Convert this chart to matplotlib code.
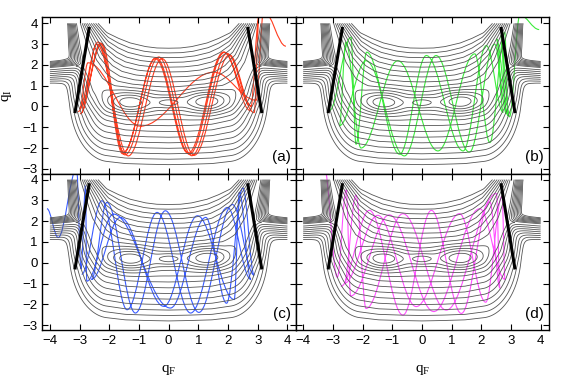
import numpy as np
import matplotlib
matplotlib.use("Agg")
import matplotlib.pyplot as plt
from matplotlib.path import Path
from matplotlib.patches import PathPatch

# ---- Potential surface: valley floor, left half (top of the arm -> middle) ----
VALLEY_X = [-3.20, -3.05, -2.92, -2.75, -2.45, -2.00, -1.40, -0.70, 0.00]
VALLEY_Y = [5.00, 4.00, 3.00, 2.00, 1.10, 0.55, 0.30, 0.22, 0.20]
# how far the walls reach on the inner (upper) side and outer (lower) side
INNER_RX = [0.35, 0.45, 1.00, 1.30, 1.80, 2.10, 2.60, 2.80, 2.80]
INNER_RY = [0.60, 0.80, 1.00, 1.80, 2.40, 2.65, 2.65, 2.60, 2.60]
OUTER_RX = [0.30, 0.35, 0.45, 0.55, 0.95, 1.35, 1.30, 1.40, 1.40]
OUTER_RY = [0.60, 0.80, 1.20, 2.20, 2.60, 3.20, 3.05, 3.00, 3.00]

# side branch of the valley leaving through the left / right edge
BRANCH_X = [-2.90, -3.30, -3.80, -4.40]
BRANCH_Y = [1.98, 1.92, 1.86, 1.80]
BRANCH_BASE = [0.30, 0.30, 0.30, 0.30]
BRANCH_UP = [0.45, 0.45, 0.45, 0.45]
BRANCH_DOWN = [0.90, 0.95, 1.00, 1.00]

# the three wells
WELL_X = [-1.30, 0.00, 1.30]
WELL_Y = [0.18, 0.18, 0.22]
WELL_DEPTH = [0.36, 0.20, 0.36]
WELL_SX = [0.78, 0.45, 0.78]
WELL_SY = [0.52, 0.30, 0.52]

# ---- Dividing lines (black) ----
DIV_LEFT_X = [-3.15, -2.68]
DIV_LEFT_Y = [-0.25, 3.75]
DIV_RIGHT_X = [2.67, 3.13]
DIV_RIGHT_Y = [3.75, -0.25]

# ---- Trajectories: turning points, one list per panel ----
TRAJ_A_X = [-3.05, -2.38, -1.47, -0.33, 0.78, 1.97, 2.88, 3.05, 2.75, 1.88, 0.70, -0.42, -1.55,
            -2.30, -2.97, -2.42, -1.36, -0.22, 0.86, 2.05, 2.80, 1.85, 0.66, -0.45, -1.52,
            -2.25, -3.00, -2.72, -0.95, 1.52, 2.95, 3.20, 3.95]
TRAJ_A_Y = [-0.25, 3.10, -2.33, 2.38, -2.37, 2.55, -0.30, 4.40, -0.20, 2.60, -2.30, 2.35, -2.28,
            3.05, -0.35, 3.00, -2.38, 2.30, -2.35, 2.48, 0.00, 2.62, -2.25, 2.30, -2.20,
            3.02, -0.10, 2.10, -0.95, 1.65, 0.30, 4.60, 2.90]

TRAJ_B_X = [-3.12, -2.39, -2.22, -1.86, -0.75, 0.15, 1.39, 2.17, 2.74, 2.51, 2.91, 2.79, 2.29,
            1.78, 0.54, -0.81, -2.05, -2.56, -2.78, -1.88, -0.59, 0.48, 1.60, 2.45, 2.85,
            2.65, 2.95, 3.30, 3.95]
TRAJ_B_Y = [-0.21, 3.33, -1.82, 2.61, -2.30, 2.45, -2.14, 2.93, -0.29, 3.25, -0.45, 3.57, -1.74,
            2.53, -2.14, 2.20, -2.00, 3.09, -0.93, 2.20, -2.38, 2.45, -2.20, 3.00, -0.35,
            3.40, -0.50, 4.40, 3.70]

TRAJ_C_X = [-2.93, -2.25, -1.40, -0.39, 0.74, 1.98, 2.77, 2.38, 2.21, 0.97, -0.16, -1.63, -2.60,
            -2.08, -1.12, -0.11, 1.02, 2.15, 2.88, 2.50, 1.95, 1.25, 0.06, -1.86, -2.76,
            -2.80, -2.95, -3.10, -3.72, -4.10]
TRAJ_C_Y = [-0.56, 2.98, -2.26, 2.42, -2.42, 2.66, -0.80, 3.39, -1.77, 2.26, -2.10, 2.18, -0.80,
            2.90, -2.42, 2.50, -2.39, 2.80, -0.60, 3.60, -1.95, 2.18, -2.18, 2.34, -0.89,
            3.70, -0.30, 4.50, 1.21, 2.60]

TRAJ_D_X = [-2.73, -1.77, -0.64, 0.32, 1.33, 2.29, 2.63, 2.51, 0.82, -0.64, -1.88, -2.22, -2.62,
            -1.49, -0.19, 1.27, 2.15, 2.70, 2.80, 1.95, 0.40, -1.10, -2.40, -2.55, -2.85, -3.29]
TRAJ_D_Y = [-1.14, 2.52, -2.52, 2.52, -2.44, 2.93, -1.22, 3.33, -2.28, 2.36, -2.20, 3.25, -1.00,
            2.28, -2.11, 2.36, -1.90, 3.20, -0.80, 2.60, -2.35, 2.30, -1.60, 3.50, -0.70, 4.60]

PANELS = [
    ("(a)", TRAJ_A_X, TRAJ_A_Y, "#ff3c1e"),
    ("(b)", TRAJ_B_X, TRAJ_B_Y, "#3cec3c"),
    ("(c)", TRAJ_C_X, TRAJ_C_Y, "#3a5cff"),
    ("(d)", TRAJ_D_X, TRAJ_D_Y, "#ff50ff"),
]


def densify(xs, ys, cols, n):
    # fine sampling of a polyline together with the values attached to its points
    t = np.arange(len(xs))
    tt = np.linspace(0, len(xs) - 1, n)
    cx, cy = np.interp(tt, t, xs), np.interp(tt, t, ys)
    return cx, cy, [np.interp(tt, t, c) for c in cols]


def piece_distance(X, Y, piece, inside):
    # smallest scaled distance to the sampled curve; "inside" picks the wall that applies
    cx, cy, (irx, iry, orx, ory, base) = piece
    best = np.full(X.shape, np.inf)
    for i in range(len(cx)):
        rx = np.where(inside, irx[i], orx[i])
        ry = np.where(inside, iry[i], ory[i])
        best = np.minimum(best, base[i] + np.hypot((X - cx[i]) / rx, (Y - cy[i]) / ry))
    return best


# ---- Build the potential on a grid ----
def build_potential():
    m = lambda a: list(a) + list(a[-2::-1])
    xs = np.array(VALLEY_X + [-v for v in VALLEY_X[-2::-1]])
    ys = np.array(m(VALLEY_Y))
    zero = [0.0] * len(VALLEY_X)
    main_piece = densify(xs, ys, [m(INNER_RX), m(INNER_RY), m(OUTER_RX), m(OUTER_RY), m(zero)], 700)

    gx = np.linspace(-4.0, 4.0, 321)
    gy = np.linspace(-3.3, 4.0, 293)
    X, Y = np.meshgrid(gx, gy)
    pts = np.column_stack([X.ravel(), Y.ravel()])

    # region enclosed by the U (above the valley floor, between the arms)
    u_shape = Path(np.column_stack([main_piece[0], main_piece[1]]))
    inside_u = u_shape.contains_points(pts).reshape(X.shape)
    dists = [piece_distance(X, Y, main_piece, inside_u)]

    # side branches: their lower wall plays the "inside" role
    spread = [0.7] * len(BRANCH_X)
    cols = [spread, BRANCH_DOWN, spread, BRANCH_UP, BRANCH_BASE]
    below = Y < np.interp(np.abs(X), -np.array(BRANCH_X), BRANCH_Y)
    for side in (1, -1):
        piece = densify(side * np.array(BRANCH_X), np.array(BRANCH_Y), cols, 120)
        dists.append(piece_distance(X, Y, piece, below))

    # soft minimum, so the corners between arm and branch come out rounded
    dists = np.array(dists)
    T = 0.2
    lo = dists.min(axis=0)
    best = lo - T * np.log(np.exp(-(dists - lo) / T).sum(axis=0))

    V = np.sqrt(best ** 2 + 0.04)
    for wx, wy, dep, sx, sy in zip(WELL_X, WELL_Y, WELL_DEPTH, WELL_SX, WELL_SY):
        V -= dep * np.exp(-((X - wx) / sx) ** 2 - ((Y - wy) / sy) ** 2)
    return X, Y, V


def smooth_path(xs, ys, k=0.36):
    verts = [(xs[0], ys[0])]
    codes = [Path.MOVETO]
    for x0, y0, x1, y1 in zip(xs[:-1], ys[:-1], xs[1:], ys[1:]):
        dx = x1 - x0
        verts += [(x0 + k * dx, y0), (x1 - k * dx, y1), (x1, y1)]
        codes += [Path.CURVE4] * 3
    return Path(verts, codes)


def main():
    plt.rcParams["font.family"] = "Liberation Sans"
    X, Y, V = build_potential()
    levels = np.arange(1.02, -0.2, -0.085)[::-1]

    fig = plt.figure(figsize=(5.71, 3.84), dpi=100)
    w, h = 0.4435, 0.407
    spots = [(0.0744, 0.548), (0.0744 + w, 0.548), (0.0744, 0.141), (0.0744 + w, 0.141)]

    for idx, ((label, tx, ty, color), (x0, y0)) in enumerate(zip(PANELS, spots)):
        ax = fig.add_axes([x0, y0, w, h])
        ax.contour(X, Y, V, levels=levels, colors="#555555", linewidths=0.6,
                   negative_linestyles="solid")
        ax.add_patch(PathPatch(smooth_path(tx, ty), fill=False, edgecolor=color, lw=0.8))
        ax.plot(DIV_LEFT_X, DIV_LEFT_Y, color="black", lw=2.2)
        ax.plot(DIV_RIGHT_X, DIV_RIGHT_Y, color="black", lw=2.2)
        ax.text(4.12, -2.45, label, ha="right", va="center", fontsize=11)

        ax.set_xlim(-4.25, 4.28)
        ax.set_ylim(-3.23, 4.29)
        ax.set_xticks(range(-4, 5))
        ax.set_yticks(range(-3, 5))
        ax.tick_params(direction="in", top=True, right=True, length=4, width=0.8,
                       labelsize=9.5)
        for sp in ax.spines.values():
            sp.set_linewidth(1.0)
        if idx % 2 == 1:
            ax.tick_params(labelleft=False)
        if idx < 2:
            ax.tick_params(labelbottom=False)
        else:
            ax.set_xlabel(r"q$_\mathregular{F}$", family="Liberation Serif", fontsize=11,
                          labelpad=12)
        if idx == 0:
            ax.set_ylabel(r"q$_\mathregular{I}$", family="Liberation Serif", fontsize=11,
                          labelpad=6)

    fig.savefig("out.png", dpi=100)
    plt.close(fig)


if __name__ == "__main__":
    main()
